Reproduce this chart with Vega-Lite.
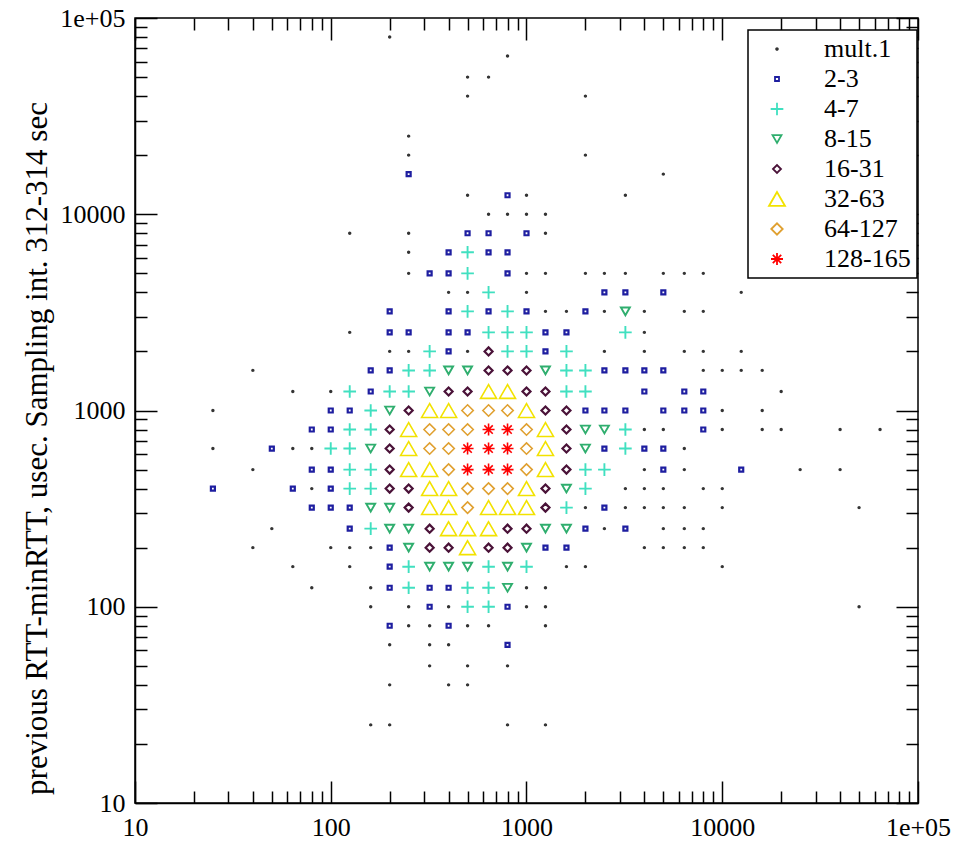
{
  "$schema": "https://vega.github.io/schema/vega-lite/v6.json",
  "width": 783,
  "height": 785,
  "autosize": {"type": "none"},
  "padding": {"left": 135, "top": 18, "right": 41, "bottom": 42},
  "background": "white",
  "config": {
    "view": {"stroke": "black", "strokeWidth": 1.5},
    "font": "Liberation Serif",
    "axis": {"grid": false, "domainColor": "black", "domainWidth": 1.5, "tickColor": "black", "tickWidth": 1.5, "labelColor": "black", "labelFont": "Liberation Serif", "labelFontSize": 26, "titleFont": "Liberation Serif", "titleColor": "black", "titleFontWeight": "normal"},
    "legend": {"orient": "none", "legendX": 613, "legendY": 12, "fillColor": "white", "strokeColor": "black", "strokeWidth": 1.5, "padding": 6, "labelFont": "Liberation Serif", "labelFontSize": 26, "labelColor": "black", "rowPadding": 4, "labelOffset": 34, "symbolOffset": 10, "symbolStrokeWidth": 1.8}
  },
  "data": {"values": [
    {"x":200,"y":80000,"m":"mult.1"},
    {"x":800,"y":64000,"m":"mult.1"},
    {"x":500,"y":50000,"m":"mult.1"},{"x":640,"y":50000,"m":"mult.1"},
    {"x":500,"y":40000,"m":"mult.1"},{"x":2000,"y":40000,"m":"mult.1"},
    {"x":250,"y":25000,"m":"mult.1"},
    {"x":250,"y":20000,"m":"mult.1"},{"x":2000,"y":20000,"m":"mult.1"},
    {"x":250,"y":16000,"m":"2-3"},{"x":5000,"y":16000,"m":"mult.1"},
    {"x":500,"y":12500,"m":"mult.1"},{"x":800,"y":12500,"m":"2-3"},{"x":1000,"y":12500,"m":"mult.1"},{"x":3200,"y":12500,"m":"mult.1"},
    {"x":640,"y":10000,"m":"mult.1"},{"x":800,"y":10000,"m":"mult.1"},{"x":1000,"y":10000,"m":"mult.1"},{"x":1250,"y":10000,"m":"mult.1"},
    {"x":125,"y":8000,"m":"mult.1"},{"x":250,"y":8000,"m":"mult.1"},{"x":500,"y":8000,"m":"2-3"},{"x":640,"y":8000,"m":"2-3"},{"x":1000,"y":8000,"m":"2-3"},{"x":1250,"y":8000,"m":"mult.1"},
    {"x":250,"y":6400,"m":"mult.1"},{"x":400,"y":6400,"m":"2-3"},{"x":500,"y":6400,"m":"4-7"},{"x":640,"y":6400,"m":"2-3"},{"x":800,"y":6400,"m":"2-3"},
    {"x":250,"y":5000,"m":"mult.1"},{"x":320,"y":5000,"m":"2-3"},{"x":400,"y":5000,"m":"2-3"},{"x":500,"y":5000,"m":"4-7"},{"x":800,"y":5000,"m":"2-3"},{"x":1000,"y":5000,"m":"mult.1"},{"x":1250,"y":5000,"m":"mult.1"},{"x":2000,"y":5000,"m":"mult.1"},{"x":2500,"y":5000,"m":"mult.1"},{"x":3200,"y":5000,"m":"mult.1"},{"x":5000,"y":5000,"m":"mult.1"},{"x":6400,"y":5000,"m":"mult.1"},{"x":8000,"y":5000,"m":"mult.1"},
    {"x":400,"y":4000,"m":"mult.1"},{"x":500,"y":4000,"m":"mult.1"},{"x":640,"y":4000,"m":"4-7"},{"x":1000,"y":4000,"m":"mult.1"},{"x":2500,"y":4000,"m":"2-3"},{"x":3200,"y":4000,"m":"2-3"},{"x":5000,"y":4000,"m":"2-3"},{"x":12500,"y":4000,"m":"mult.1"},
    {"x":200,"y":3200,"m":"2-3"},{"x":400,"y":3200,"m":"2-3"},{"x":500,"y":3200,"m":"4-7"},{"x":640,"y":3200,"m":"2-3"},{"x":800,"y":3200,"m":"4-7"},{"x":1000,"y":3200,"m":"2-3"},{"x":1250,"y":3200,"m":"mult.1"},{"x":1600,"y":3200,"m":"mult.1"},{"x":2000,"y":3200,"m":"2-3"},{"x":2500,"y":3200,"m":"mult.1"},{"x":3200,"y":3200,"m":"8-15"},{"x":4000,"y":3200,"m":"mult.1"},{"x":6400,"y":3200,"m":"mult.1"},{"x":8000,"y":3200,"m":"mult.1"},
    {"x":125,"y":2500,"m":"mult.1"},{"x":200,"y":2500,"m":"2-3"},{"x":250,"y":2500,"m":"2-3"},{"x":400,"y":2500,"m":"2-3"},{"x":500,"y":2500,"m":"2-3"},{"x":640,"y":2500,"m":"4-7"},{"x":800,"y":2500,"m":"4-7"},{"x":1000,"y":2500,"m":"4-7"},{"x":1250,"y":2500,"m":"2-3"},{"x":1600,"y":2500,"m":"2-3"},{"x":3200,"y":2500,"m":"4-7"},{"x":4000,"y":2500,"m":"mult.1"},
    {"x":200,"y":2000,"m":"mult.1"},{"x":250,"y":2000,"m":"mult.1"},{"x":320,"y":2000,"m":"4-7"},{"x":400,"y":2000,"m":"2-3"},{"x":500,"y":2000,"m":"mult.1"},{"x":640,"y":2000,"m":"16-31"},{"x":800,"y":2000,"m":"4-7"},{"x":1000,"y":2000,"m":"4-7"},{"x":1250,"y":2000,"m":"2-3"},{"x":1600,"y":2000,"m":"4-7"},{"x":2500,"y":2000,"m":"mult.1"},{"x":4000,"y":2000,"m":"mult.1"},{"x":6400,"y":2000,"m":"mult.1"},{"x":8000,"y":2000,"m":"mult.1"},{"x":12500,"y":2000,"m":"mult.1"},
    {"x":40,"y":1600,"m":"mult.1"},{"x":160,"y":1600,"m":"2-3"},{"x":200,"y":1600,"m":"2-3"},{"x":250,"y":1600,"m":"4-7"},{"x":320,"y":1600,"m":"4-7"},{"x":400,"y":1600,"m":"8-15"},{"x":500,"y":1600,"m":"8-15"},{"x":640,"y":1600,"m":"16-31"},{"x":800,"y":1600,"m":"16-31"},{"x":1000,"y":1600,"m":"16-31"},{"x":1250,"y":1600,"m":"8-15"},{"x":1600,"y":1600,"m":"4-7"},{"x":2000,"y":1600,"m":"4-7"},{"x":2500,"y":1600,"m":"2-3"},{"x":3200,"y":1600,"m":"2-3"},{"x":4000,"y":1600,"m":"2-3"},{"x":5000,"y":1600,"m":"2-3"},{"x":8000,"y":1600,"m":"mult.1"},{"x":10000,"y":1600,"m":"mult.1"},{"x":12500,"y":1600,"m":"mult.1"},{"x":16000,"y":1600,"m":"mult.1"},
    {"x":64,"y":1250,"m":"mult.1"},{"x":100,"y":1250,"m":"mult.1"},{"x":125,"y":1250,"m":"4-7"},{"x":160,"y":1250,"m":"2-3"},{"x":200,"y":1250,"m":"4-7"},{"x":250,"y":1250,"m":"4-7"},{"x":320,"y":1250,"m":"8-15"},{"x":400,"y":1250,"m":"16-31"},{"x":500,"y":1250,"m":"16-31"},{"x":640,"y":1250,"m":"32-63"},{"x":800,"y":1250,"m":"32-63"},{"x":1000,"y":1250,"m":"16-31"},{"x":1250,"y":1250,"m":"16-31"},{"x":1600,"y":1250,"m":"4-7"},{"x":2000,"y":1250,"m":"4-7"},{"x":4000,"y":1250,"m":"2-3"},{"x":6400,"y":1250,"m":"2-3"},{"x":8000,"y":1250,"m":"2-3"},{"x":20000,"y":1250,"m":"mult.1"},
    {"x":25,"y":1000,"m":"mult.1"},{"x":100,"y":1000,"m":"2-3"},{"x":125,"y":1000,"m":"2-3"},{"x":160,"y":1000,"m":"4-7"},{"x":200,"y":1000,"m":"8-15"},{"x":250,"y":1000,"m":"16-31"},{"x":320,"y":1000,"m":"32-63"},{"x":400,"y":1000,"m":"32-63"},{"x":500,"y":1000,"m":"64-127"},{"x":640,"y":1000,"m":"64-127"},{"x":800,"y":1000,"m":"64-127"},{"x":1000,"y":1000,"m":"32-63"},{"x":1250,"y":1000,"m":"16-31"},{"x":1600,"y":1000,"m":"16-31"},{"x":2000,"y":1000,"m":"2-3"},{"x":2500,"y":1000,"m":"2-3"},{"x":3200,"y":1000,"m":"2-3"},{"x":5000,"y":1000,"m":"2-3"},{"x":6400,"y":1000,"m":"2-3"},{"x":8000,"y":1000,"m":"2-3"},{"x":10000,"y":1000,"m":"mult.1"},{"x":16000,"y":1000,"m":"mult.1"},
    {"x":80,"y":800,"m":"2-3"},{"x":100,"y":800,"m":"2-3"},{"x":125,"y":800,"m":"4-7"},{"x":160,"y":800,"m":"4-7"},{"x":200,"y":800,"m":"16-31"},{"x":250,"y":800,"m":"32-63"},{"x":320,"y":800,"m":"64-127"},{"x":400,"y":800,"m":"64-127"},{"x":500,"y":800,"m":"64-127"},{"x":640,"y":800,"m":"128-165"},{"x":800,"y":800,"m":"128-165"},{"x":1000,"y":800,"m":"64-127"},{"x":1250,"y":800,"m":"32-63"},{"x":1600,"y":800,"m":"16-31"},{"x":2000,"y":800,"m":"8-15"},{"x":2500,"y":800,"m":"8-15"},{"x":3200,"y":800,"m":"4-7"},{"x":4000,"y":800,"m":"mult.1"},{"x":5000,"y":800,"m":"mult.1"},{"x":8000,"y":800,"m":"2-3"},{"x":10000,"y":800,"m":"mult.1"},{"x":16000,"y":800,"m":"mult.1"},{"x":20000,"y":800,"m":"mult.1"},{"x":40000,"y":800,"m":"mult.1"},{"x":64000,"y":800,"m":"mult.1"},
    {"x":25,"y":640,"m":"mult.1"},{"x":50,"y":640,"m":"2-3"},{"x":64,"y":640,"m":"mult.1"},{"x":80,"y":640,"m":"mult.1"},{"x":100,"y":640,"m":"4-7"},{"x":125,"y":640,"m":"4-7"},{"x":160,"y":640,"m":"8-15"},{"x":200,"y":640,"m":"16-31"},{"x":250,"y":640,"m":"32-63"},{"x":320,"y":640,"m":"64-127"},{"x":400,"y":640,"m":"64-127"},{"x":500,"y":640,"m":"128-165"},{"x":640,"y":640,"m":"128-165"},{"x":800,"y":640,"m":"128-165"},{"x":1000,"y":640,"m":"64-127"},{"x":1250,"y":640,"m":"32-63"},{"x":1600,"y":640,"m":"16-31"},{"x":2000,"y":640,"m":"8-15"},{"x":2500,"y":640,"m":"2-3"},{"x":3200,"y":640,"m":"4-7"},{"x":4000,"y":640,"m":"2-3"},{"x":5000,"y":640,"m":"2-3"},{"x":6400,"y":640,"m":"mult.1"},
    {"x":40,"y":500,"m":"mult.1"},{"x":80,"y":500,"m":"2-3"},{"x":100,"y":500,"m":"2-3"},{"x":125,"y":500,"m":"4-7"},{"x":160,"y":500,"m":"4-7"},{"x":200,"y":500,"m":"16-31"},{"x":250,"y":500,"m":"32-63"},{"x":320,"y":500,"m":"32-63"},{"x":400,"y":500,"m":"64-127"},{"x":500,"y":500,"m":"128-165"},{"x":640,"y":500,"m":"128-165"},{"x":800,"y":500,"m":"128-165"},{"x":1000,"y":500,"m":"64-127"},{"x":1250,"y":500,"m":"32-63"},{"x":1600,"y":500,"m":"16-31"},{"x":2000,"y":500,"m":"4-7"},{"x":2500,"y":500,"m":"4-7"},{"x":4000,"y":500,"m":"mult.1"},{"x":5000,"y":500,"m":"2-3"},{"x":6400,"y":500,"m":"mult.1"},{"x":12500,"y":500,"m":"2-3"},{"x":25000,"y":500,"m":"mult.1"},{"x":40000,"y":500,"m":"mult.1"},
    {"x":25,"y":400,"m":"2-3"},{"x":64,"y":400,"m":"2-3"},{"x":80,"y":400,"m":"mult.1"},{"x":100,"y":400,"m":"2-3"},{"x":125,"y":400,"m":"4-7"},{"x":160,"y":400,"m":"4-7"},{"x":200,"y":400,"m":"16-31"},{"x":250,"y":400,"m":"16-31"},{"x":320,"y":400,"m":"32-63"},{"x":400,"y":400,"m":"32-63"},{"x":500,"y":400,"m":"64-127"},{"x":640,"y":400,"m":"64-127"},{"x":800,"y":400,"m":"64-127"},{"x":1000,"y":400,"m":"32-63"},{"x":1250,"y":400,"m":"16-31"},{"x":1600,"y":400,"m":"8-15"},{"x":2000,"y":400,"m":"4-7"},{"x":3200,"y":400,"m":"mult.1"},{"x":4000,"y":400,"m":"mult.1"},{"x":5000,"y":400,"m":"mult.1"},{"x":8000,"y":400,"m":"mult.1"},{"x":10000,"y":400,"m":"mult.1"},
    {"x":80,"y":320,"m":"2-3"},{"x":100,"y":320,"m":"2-3"},{"x":125,"y":320,"m":"2-3"},{"x":160,"y":320,"m":"8-15"},{"x":200,"y":320,"m":"8-15"},{"x":250,"y":320,"m":"16-31"},{"x":320,"y":320,"m":"32-63"},{"x":400,"y":320,"m":"32-63"},{"x":500,"y":320,"m":"64-127"},{"x":640,"y":320,"m":"32-63"},{"x":800,"y":320,"m":"32-63"},{"x":1000,"y":320,"m":"32-63"},{"x":1250,"y":320,"m":"16-31"},{"x":1600,"y":320,"m":"4-7"},{"x":2000,"y":320,"m":"mult.1"},{"x":2500,"y":320,"m":"2-3"},{"x":3200,"y":320,"m":"mult.1"},{"x":4000,"y":320,"m":"mult.1"},{"x":5000,"y":320,"m":"mult.1"},{"x":6400,"y":320,"m":"mult.1"},{"x":10000,"y":320,"m":"mult.1"},{"x":50000,"y":320,"m":"mult.1"},
    {"x":50,"y":250,"m":"mult.1"},{"x":125,"y":250,"m":"2-3"},{"x":160,"y":250,"m":"4-7"},{"x":200,"y":250,"m":"8-15"},{"x":250,"y":250,"m":"8-15"},{"x":320,"y":250,"m":"16-31"},{"x":400,"y":250,"m":"32-63"},{"x":500,"y":250,"m":"32-63"},{"x":640,"y":250,"m":"32-63"},{"x":800,"y":250,"m":"16-31"},{"x":1000,"y":250,"m":"16-31"},{"x":1250,"y":250,"m":"8-15"},{"x":1600,"y":250,"m":"8-15"},{"x":2000,"y":250,"m":"2-3"},{"x":2500,"y":250,"m":"mult.1"},{"x":3200,"y":250,"m":"2-3"},{"x":5000,"y":250,"m":"mult.1"},{"x":6400,"y":250,"m":"mult.1"},{"x":8000,"y":250,"m":"mult.1"},
    {"x":40,"y":200,"m":"mult.1"},{"x":100,"y":200,"m":"mult.1"},{"x":125,"y":200,"m":"mult.1"},{"x":160,"y":200,"m":"mult.1"},{"x":200,"y":200,"m":"2-3"},{"x":250,"y":200,"m":"8-15"},{"x":320,"y":200,"m":"16-31"},{"x":400,"y":200,"m":"16-31"},{"x":500,"y":200,"m":"32-63"},{"x":640,"y":200,"m":"16-31"},{"x":800,"y":200,"m":"16-31"},{"x":1000,"y":200,"m":"8-15"},{"x":1250,"y":200,"m":"2-3"},{"x":1600,"y":200,"m":"2-3"},{"x":4000,"y":200,"m":"mult.1"},{"x":5000,"y":200,"m":"mult.1"},{"x":6400,"y":200,"m":"mult.1"},{"x":8000,"y":200,"m":"mult.1"},
    {"x":64,"y":160,"m":"mult.1"},{"x":125,"y":160,"m":"mult.1"},{"x":200,"y":160,"m":"2-3"},{"x":250,"y":160,"m":"4-7"},{"x":320,"y":160,"m":"8-15"},{"x":400,"y":160,"m":"8-15"},{"x":500,"y":160,"m":"8-15"},{"x":640,"y":160,"m":"4-7"},{"x":800,"y":160,"m":"8-15"},{"x":1000,"y":160,"m":"4-7"},{"x":1600,"y":160,"m":"mult.1"},{"x":2000,"y":160,"m":"mult.1"},{"x":10000,"y":160,"m":"mult.1"},
    {"x":80,"y":125,"m":"mult.1"},{"x":160,"y":125,"m":"mult.1"},{"x":200,"y":125,"m":"2-3"},{"x":250,"y":125,"m":"4-7"},{"x":320,"y":125,"m":"2-3"},{"x":400,"y":125,"m":"2-3"},{"x":500,"y":125,"m":"4-7"},{"x":640,"y":125,"m":"4-7"},{"x":800,"y":125,"m":"8-15"},{"x":1000,"y":125,"m":"mult.1"},{"x":1250,"y":125,"m":"mult.1"},
    {"x":160,"y":100,"m":"mult.1"},{"x":250,"y":100,"m":"mult.1"},{"x":320,"y":100,"m":"2-3"},{"x":400,"y":100,"m":"mult.1"},{"x":500,"y":100,"m":"4-7"},{"x":640,"y":100,"m":"4-7"},{"x":800,"y":100,"m":"2-3"},{"x":1000,"y":100,"m":"mult.1"},{"x":1250,"y":100,"m":"mult.1"},{"x":50000,"y":100,"m":"mult.1"},
    {"x":200,"y":80,"m":"2-3"},{"x":250,"y":80,"m":"mult.1"},{"x":320,"y":80,"m":"mult.1"},{"x":400,"y":80,"m":"2-3"},{"x":500,"y":80,"m":"mult.1"},{"x":640,"y":80,"m":"mult.1"},{"x":1250,"y":80,"m":"mult.1"},
    {"x":200,"y":64,"m":"mult.1"},{"x":320,"y":64,"m":"mult.1"},{"x":400,"y":64,"m":"mult.1"},{"x":800,"y":64,"m":"2-3"},
    {"x":320,"y":50,"m":"mult.1"},{"x":500,"y":50,"m":"mult.1"},{"x":800,"y":50,"m":"mult.1"},
    {"x":200,"y":40,"m":"mult.1"},{"x":400,"y":40,"m":"mult.1"},{"x":500,"y":40,"m":"mult.1"},
    {"x":160,"y":25,"m":"mult.1"},{"x":200,"y":25,"m":"mult.1"},{"x":800,"y":25,"m":"mult.1"},{"x":1250,"y":25,"m":"mult.1"}
  ]},
  "resolve": {"axis": {"x": "independent", "y": "independent"}},
  "layer": [
    {
      "mark": {"type": "point", "filled": false, "opacity": 1},
      "encoding": {
        "x": {"field": "x", "type": "quantitative",
          "scale": {"type": "log", "domain": [10, 100000], "nice": false},
          "axis": {"orient": "bottom", "title": null,
            "values": [10,20,30,40,50,60,70,80,90,100,200,300,400,500,600,700,800,900,1000,2000,3000,4000,5000,6000,7000,8000,9000,10000,20000,30000,40000,50000,60000,70000,80000,90000,100000],
            "labelExpr": "datum.value == 100000 ? '1e+05' : ((datum.value == 10 || datum.value == 100 || datum.value == 1000 || datum.value == 10000) ? '' + datum.value : '')",
            "tickSize": {"condition": {"test": "datum.value == 10 || datum.value == 100 || datum.value == 1000 || datum.value == 10000 || datum.value == 100000", "value": -22}, "value": -12},
            "labelPadding": 33, "labelFlush": false, "labelOverlap": false}},
        "y": {"field": "y", "type": "quantitative",
          "scale": {"type": "log", "domain": [10, 100000], "nice": false},
          "axis": {"orient": "left", "title": "previous RTT-minRTT, usec. Sampling int. 312-314 sec",
            "titleFontSize": 31, "titleX": -98, "titleY": 430, "titleBaseline": "middle", "titleAngle": -90, "titleAlign": "center",
            "values": [10,20,30,40,50,60,70,80,90,100,200,300,400,500,600,700,800,900,1000,2000,3000,4000,5000,6000,7000,8000,9000,10000,20000,30000,40000,50000,60000,70000,80000,90000,100000],
            "labelExpr": "datum.value == 100000 ? '1e+05' : ((datum.value == 10 || datum.value == 100 || datum.value == 1000 || datum.value == 10000) ? '' + datum.value : '')",
            "tickSize": {"condition": {"test": "datum.value == 10 || datum.value == 100 || datum.value == 1000 || datum.value == 10000 || datum.value == 100000", "value": -22}, "value": -12},
            "labelPadding": 32, "labelFlush": false, "labelOverlap": false}},
        "color": {"field": "m", "type": "nominal",
          "scale": {"domain": ["mult.1","2-3","4-7","8-15","16-31","32-63","64-127","128-165"],
            "range": ["#333333","#1e1ea0","#40e0c0","#2fae6e","#4a1238","#f2e200","#e0a030","#ff0000"]},
          "legend": {"title": null}},
        "shape": {"field": "m", "type": "nominal",
          "scale": {"domain": ["mult.1","2-3","4-7","8-15","16-31","32-63","64-127","128-165"],
            "range": ["circle","square","M-1,0L1,0M0,-1L0,1","triangle-down","diamond","triangle-up","diamond","M-1,0L1,0M0,-1L0,1M-0.7,-0.7L0.7,0.7M-0.7,0.7L0.7,-0.7"]},
          "legend": {"title": null}},
        "size": {"field": "m", "type": "nominal",
          "scale": {"type": "ordinal", "domain": ["mult.1","2-3","4-7","8-15","16-31","32-63","64-127","128-165"],
            "range": [3,16,160,80,64,256,130,144]},
          "legend": {"title": null}},
        "strokeWidth": {"condition": [
            {"test": "datum.m == '2-3' || datum.m == '16-31'", "value": 2.2},
            {"test": "datum.m == '8-15' || datum.m == '4-7'", "value": 1.9}
          ], "value": 1.6}
      }
    },
    {
      "mark": {"type": "point", "opacity": 0},
      "encoding": {
        "x": {"field": "x", "type": "quantitative",
          "axis": {"orient": "top", "title": null, "labels": false, "domain": false,
            "values": [10,20,30,40,50,60,70,80,90,100,200,300,400,500,600,700,800,900,1000,2000,3000,4000,5000,6000,7000,8000,9000,10000,20000,30000,40000,50000,60000,70000,80000,90000,100000],
            "tickSize": {"condition": {"test": "datum.value == 10 || datum.value == 100 || datum.value == 1000 || datum.value == 10000 || datum.value == 100000", "value": -22}, "value": -12}}},
        "y": {"field": "y", "type": "quantitative",
          "axis": {"orient": "right", "title": null, "labels": false, "domain": false,
            "values": [10,20,30,40,50,60,70,80,90,100,200,300,400,500,600,700,800,900,1000,2000,3000,4000,5000,6000,7000,8000,9000,10000,20000,30000,40000,50000,60000,70000,80000,90000,100000],
            "tickSize": {"condition": {"test": "datum.value == 10 || datum.value == 100 || datum.value == 1000 || datum.value == 10000 || datum.value == 100000", "value": -22}, "value": -12}}}
      }
    }
  ]
}
